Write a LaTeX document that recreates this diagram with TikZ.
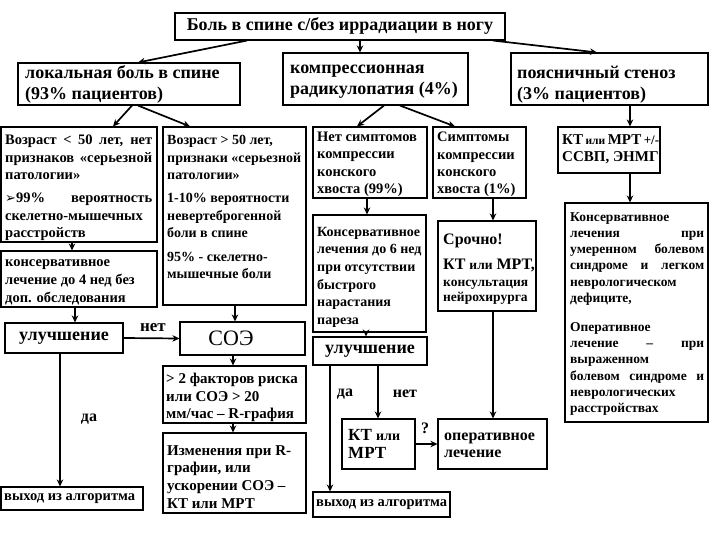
\documentclass[tikz,border=0pt]{standalone}
\usepackage{fontspec}
\setmainfont{Liberation Serif}
\newfontfamily\djv{DejaVu Sans}
\usetikzlibrary{fit,arrows.meta}
\newcommand\jline[2]{\makebox[#1][s]{\spaceskip=0.3333em plus 1fil\relax #2}}
\begin{document}
\begin{tikzpicture}[x=1pt,y=-1pt,
  frame/.style={draw, line width=1.1pt, inner sep=0pt},
  arr/.style={line width=1.7pt, -{Stealth[length=7pt,width=6.5pt]}},
  bigt/.style={inner sep=0pt, font=\bfseries\fontsize{18}{21}\selectfont},
  sm/.style={inner sep=0pt, anchor=north west, align=left, font=\bfseries\fontsize{14.5}{17.5}\selectfont},
  lbl/.style={inner sep=0pt, font=\bfseries\fontsize{16}{18}\selectfont},
]
\useasboundingbox (0,0) rectangle (720,540);

% level 0
\node[frame, fit={(175,13) (505,40)}] (top) {};
\node[font=\bfseries\fontsize{18}{20}\selectfont, inner sep=0pt] (toptxt) at (top.center) {Боль в спине с/без иррадиации в ногу};

% level 1
\node[frame, fit={(18,63) (240,105)}] (loc) {};
\node[bigt, anchor=north west, align=left] (loctxt) at (25,65.5) {локальная боль в спине\\(93\% пациентов)};
\node[frame, fit={(283,53) (468,105)}] (comp) {};
\node[bigt, anchor=north west, align=left] (comptxt) at (290,64.5) {компрессионная\\радикулопатия (4\%)};
\node[frame, fit={(511,53) (708,105)}] (sten) {};
\node[bigt, anchor=north west, align=left] (stentxt) at (517,65.5) {поясничный стеноз\\(3\% пациентов)};

% left column
\node[frame, fit={(1,127) (157,242)}] (A) {};
\node[sm, text width=147pt] (Atxt) at (5,135) {\jline{147pt}{Возраст < 50 лет, нет}\\ \jline{147pt}{признаков «серьезной}\\ патологии»\\[5.5pt] \jline{147pt}{{\djv\fontsize{13}{13}\selectfont ➢}99\% вероятность}\\ скелетно-мышечных\\ расстройств};
\node[frame, fit={(1,251) (157,307)}] (C) {};
\node[sm, font=\bfseries\fontsize{14.5}{18}\selectfont] (Ctxt) at (5,259) {консервативное\\ лечение до 4 нед без\\ доп. обследования};

\node[frame, fit={(163,127) (306,305)}] (B) {};
\node[sm, font=\bfseries\fontsize{14}{17.5}\selectfont] (Btxt) at (167,135) {Возраст > 50 лет,\\ признаки «серьезной\\ патологии»\\[5.5pt] 1-10\% вероятности\\ невертеброгенной\\ боли в спине\\[6pt] 95\% - скелетно-\\ мышечные боли};

% middle column
\node[frame, fit={(313,127) (427,198)}] (D) {};
\node[sm, font=\bfseries\fontsize{14.5}{17.3}\selectfont] (Dtxt) at (317,132) {Нет симптомов\\ компрессии\\ конского\\ хвоста (99\%)};
\node[frame, fit={(433,127) (526,198)}] (E) {};
\node[sm, font=\bfseries\fontsize{14.5}{17.3}\selectfont] (Etxt) at (437,132) {Симптомы\\ компрессии\\ конского\\ хвоста (1\%)};
\node[frame, fit={(313,215) (426,332)}] (F) {};
\node[sm, font=\bfseries\fontsize{14}{17.6}\selectfont] (Ftxt) at (317,227) {Консервативное\\ лечения до 6 нед\\ при отсутствии\\ быстрого\\ нарастания\\ пареза};
\node[frame, fit={(438,221) (536,311)}] (G) {};
\node[bigt, anchor=west, font=\bfseries\fontsize{16}{18}\selectfont] (G1) at (443,241) {Срочно!};
\node[bigt, anchor=west, font=\bfseries\fontsize{16}{18}\selectfont] (G2) at (443,265) {КТ {\fontsize{13.5}{15}\selectfont или} МРТ,};
\node[sm, font=\bfseries\fontsize{13.5}{15}\selectfont] (G3) at (443,280) {консультация\\ нейрохирурга};

% right column
\node[frame, fit={(558,127) (660,173)}] (H) {};
\node[bigt, anchor=north west, align=left, font=\bfseries\fontsize{15}{17}\selectfont] (Htxt) at (562,134) {{\fontsize{15}{17}\selectfont КТ\hspace{2.5pt}{\fontsize{11.5}{13}\selectfont или}\hspace{2.5pt}МРТ\hspace{2.5pt}{\fontsize{13}{15}\selectfont +/-}}\\ ССВП, ЭНМГ};
\node[frame, fit={(565,203) (708,422)}] (I) {};
\node[sm, text width=134pt, font=\bfseries\fontsize{13.5}{16.3}\selectfont] (Itxt) at (570,212) {Консервативное\\ \jline{134pt}{лечения при}\\ \jline{134pt}{умеренном болевом}\\ \jline{134pt}{синдроме и легком}\\ неврологическом\\ дефиците,\\[12.5pt] Оперативное\\ \jline{134pt}{лечение – при}\\ выраженном\\ \jline{134pt}{болевом синдроме и}\\ неврологических\\ расстройствах};

% bottom left
\node[frame, fit={(5,323) (123,353)}] (ulL) {};
\node[bigt] (ulLtxt) at (ulL.center) {улучшение};
\node[frame, fit={(180,322) (305,355)}] (soe) {};
\node[inner sep=0pt, font=\fontsize{22}{24}\selectfont] (soetxt) at (231,338.5) {СОЭ};
\node[lbl, font=\bfseries\fontsize{17}{19}\selectfont] (net1) at (153,328) {нет};
\node[lbl] (da1) at (89,419) {да};
\node[frame, fit={(1,487) (143,510)}] (exL) {};
\node[sm, anchor=west, font=\bfseries\fontsize{14.5}{16}\selectfont] (exLtxt) at (4,498.5) {выход из алгоритма};
\node[frame, fit={(163,366) (306,423)}] (fac) {};
\node[sm, font=\bfseries\fontsize{15}{17.5}\selectfont] (factxt) at (166,373) {> 2 факторов риска\\ или СОЭ > 20\\ мм/час – R-графия};
\node[frame, fit={(163,433) (306,513)}] (chg) {};
\node[sm, font=\bfseries\fontsize{15}{17.7}\selectfont] (chgtxt) at (167,445) {Изменения при R-\\ графии, или\\ ускорении СОЭ –\\ КТ или МРТ};

% bottom middle
\node[frame, fit={(313,337) (427,365)}] (ulM) {};
\node[bigt] (ulMtxt) at (ulM.center) {улучшение};
\node[lbl] (da2) at (345,394) {да};
\node[lbl] (net2) at (405,394) {нет};
\node[frame, fit={(342,419) (415,469)}] (kt) {};
\node[bigt, anchor=north west, align=left, font=\bfseries\fontsize{17}{18}\selectfont] (kttxt) at (348,429.5) {КТ {\fontsize{14}{16}\selectfont или}\\ МРТ};
\node[lbl] (q) at (425,428) {?};
\node[frame, fit={(438,419) (547,469)}] (op) {};
\node[sm, font=\bfseries\fontsize{16}{17}\selectfont] (optxt) at (444,432.5) {оперативное\\ лечение};
\node[frame, fit={(313,492) (450,517)}] (exM) {};
\node[sm, anchor=west, font=\bfseries\fontsize{14.5}{16}\selectfont] (exMtxt) at (316,504.5) {выход из алгоритма};

% connectors
\draw[arr] (247,0 |- top.south) -- (138,0 |- loc.north);
\draw[arr] (360,0 |- top.south) -- (360,0 |- comp.north);
\draw[arr] (493,0 |- top.south) -- (597,0 |- sten.north);
\draw[arr] (132,0 |- loc.south) -- (113,0 |- A.north);
\draw[arr] (138,0 |- loc.south) -- (190,0 |- B.north);
\draw[arr] (384,0 |- comp.south) -- (357,0 |- D.north);
\draw[arr] (400,0 |- comp.south) -- (455,0 |- E.north);
\draw[arr] (630,0 |- sten.south) -- (630,0 |- H.north);
\draw[arr] (72,0 |- A.south) -- (72,0 |- C.north);
\draw[arr] (367,0 |- D.south) -- (367,0 |- F.north);
\draw[arr] (493,0 |- E.south) -- (493,0 |- G.north);
\draw[arr] (630,0 |- H.south) -- (630,0 |- I.north);
\draw[arr] (75,0 |- C.south) -- (75,0 |- ulL.north);
\draw[arr] (235,0 |- B.south) -- (235,0 |- soe.north);
\draw[arr] (ulL.east) -- (soe.west);
\draw[arr] (60,0 |- ulL.south) -- (60,0 |- exL.north);
\draw[arr] (233,0 |- soe.south) -- (233,0 |- fac.north);
\draw[arr] (233,0 |- fac.south) -- (233,0 |- chg.north);
\draw[arr] (366,0 |- F.south) -- (366,0 |- ulM.north);
\draw[arr] (378,0 |- ulM.south) -- (378,0 |- kt.north);
\draw[arr] (330,0 |- ulM.south) -- (330,0 |- exM.north);
\draw[arr] (kt.east) -- (op.west);
\draw[arr] (493,0 |- G.south) -- (493,0 |- op.north);
\end{tikzpicture}
\end{document}
